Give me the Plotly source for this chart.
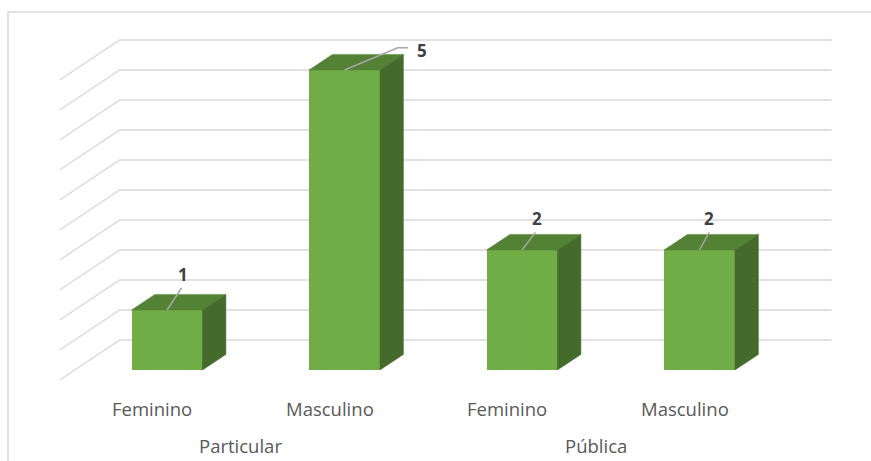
import plotly.graph_objects as go

# ---- data ----
groups = ["Particular", "Particular", "Pública", "Pública"]
sexes = ["Feminino", "Masculino", "Feminino", "Masculino"]
counts = [1, 5, 2, 2]
group_names = ["Particular", "Pública"]
group_centers = [0.5, 2.5]
grid_levels = [0, 0.5, 1, 1.5, 2, 2.5, 3, 3.5, 4, 4.5, 5]

# ---- pseudo-3D geometry ----
W, H = 871, 461
PX_X = 177.5      # pixels per category step
PX_Y = 60.0       # pixels per unit of value
X0_PX = 152       # pixel x of first category on the front floor edge
Y0_PX = 380       # pixel y of value 0 on the front floor edge

DX = 60 / PX_X    # x shift from front edge to back wall
DY = 40 / PX_Y    # y shift from front edge to back wall
FRONT = 0.25      # depth of the bar front faces
DEPTH = 0.39      # bar depth (fraction of floor depth)
BAR_W = 0.4       # bar width in category units
WALL_L, WALL_R = -0.52, 3.49

FACE = "#70AD47"
TOP = "#548235"
SIDE = "#446B2C"
GRID = "#D9D9D9"
TEXT = "#595959"
FONT = "Open Sans"

x_range = [-X0_PX / PX_X, (W - X0_PX) / PX_X]
y_range = [(Y0_PX - H) / PX_Y, Y0_PX / PX_Y]


def px(dx_px, dy_px):
    """convert a pixel offset to data units (screen y grows downward)"""
    return dx_px / PX_X, -dy_px / PX_Y


fig = go.Figure()
shapes = []

# back wall + left wall gridlines
for v in grid_levels:
    x1, y1 = WALL_L + DX, v + DY
    x2 = WALL_R + DX
    shapes.append(dict(
        type="path", xref="x", yref="y", layer="below",
        path=f"M {WALL_L},{v} L {x1},{y1} L {x2},{y1}",
        line=dict(color=GRID, width=1.3),
    ))

# chart border
shapes.append(dict(
    type="rect", xref="paper", yref="paper", layer="below",
    x0=8 / W, x1=1.01, y0=-0.01, y1=1 - 12 / H,
    line=dict(color=GRID, width=1.5), fillcolor="rgba(0,0,0,0)",
))

xs = [i + FRONT * DX for i in range(len(counts))]
base = FRONT * DY

# front faces
fig.add_trace(go.Bar(
    x=xs, y=counts, base=base, width=BAR_W,
    marker=dict(color=FACE, line=dict(width=0)),
    hoverinfo="skip", showlegend=False,
))

ddx, ddy = DEPTH * DX, DEPTH * DY
for xc, v in zip(xs, counts):
    xl, xr = xc - BAR_W / 2, xc + BAR_W / 2
    top = base + v
    # top face
    fig.add_trace(go.Scatter(
        x=[xl, xr, xr + ddx, xl + ddx, xl],
        y=[top, top, top + ddy, top + ddy, top],
        fill="toself", fillcolor=TOP, mode="lines",
        line=dict(color=TOP, width=0.5),
        hoverinfo="skip", showlegend=False,
    ))
    # side face
    fig.add_trace(go.Scatter(
        x=[xr, xr, xr + ddx, xr + ddx, xr],
        y=[base, top, top + ddy, base + ddy, base],
        fill="toself", fillcolor=SIDE, mode="lines",
        line=dict(color=SIDE, width=0.5),
        hoverinfo="skip", showlegend=False,
    ))

# leader lines and value labels (pixel offsets from the top-front centre)
leaders = [
    [(0, 0), (14.6, -22)],
    [(0, 0), (53.3, -22.3), (63.3, -22.3)],
    [(0, 0), (13.4, -17.6)],
    [(0, 0), (9.7, -17.6)],
]
label_pos = [(15.7, -36), (77.5, -19.5), (14.7, -32), (9.7, -32)]

annotations = []
for xc, v, pts, lp in zip(xs, counts, leaders, label_pos):
    top = base + v
    lx, ly = [], []
    for p in pts:
        ox, oy = px(*p)
        lx.append(xc + ox)
        ly.append(top + oy)
    fig.add_trace(go.Scatter(
        x=lx, y=ly, mode="lines",
        line=dict(color="#A6A6A6", width=1.5),
        hoverinfo="skip", showlegend=False,
    ))
    ox, oy = px(*lp)
    annotations.append(dict(
        x=xc + ox, y=top + oy, xref="x", yref="y",
        text=f"<b>{v}</b>", showarrow=False,
        xanchor="center", yanchor="middle",
        font=dict(family=FONT, size=17, color="#404040"),
    ))

# category labels along the front floor edge
for i, s in enumerate(sexes):
    annotations.append(dict(
        x=i, y=(Y0_PX - 408) / PX_Y, xref="x", yref="y",
        text=s, showarrow=False, xanchor="center", yanchor="middle",
        font=dict(family=FONT, size=18.5, color=TEXT),
    ))
for g, c in zip(group_names, group_centers):
    annotations.append(dict(
        x=c, y=(Y0_PX - 445) / PX_Y, xref="x", yref="y",
        text=g, showarrow=False, xanchor="center", yanchor="middle",
        font=dict(family=FONT, size=18.5, color=TEXT),
    ))

fig.update_layout(
    width=W, height=H,
    margin=dict(l=0, r=0, t=0, b=0),
    paper_bgcolor="white", plot_bgcolor="white",
    xaxis=dict(range=x_range, visible=False, fixedrange=True),
    yaxis=dict(range=y_range, visible=False, fixedrange=True),
    shapes=shapes, annotations=annotations,
    bargap=0, showlegend=False,
)

fig.write_html("out.html")
